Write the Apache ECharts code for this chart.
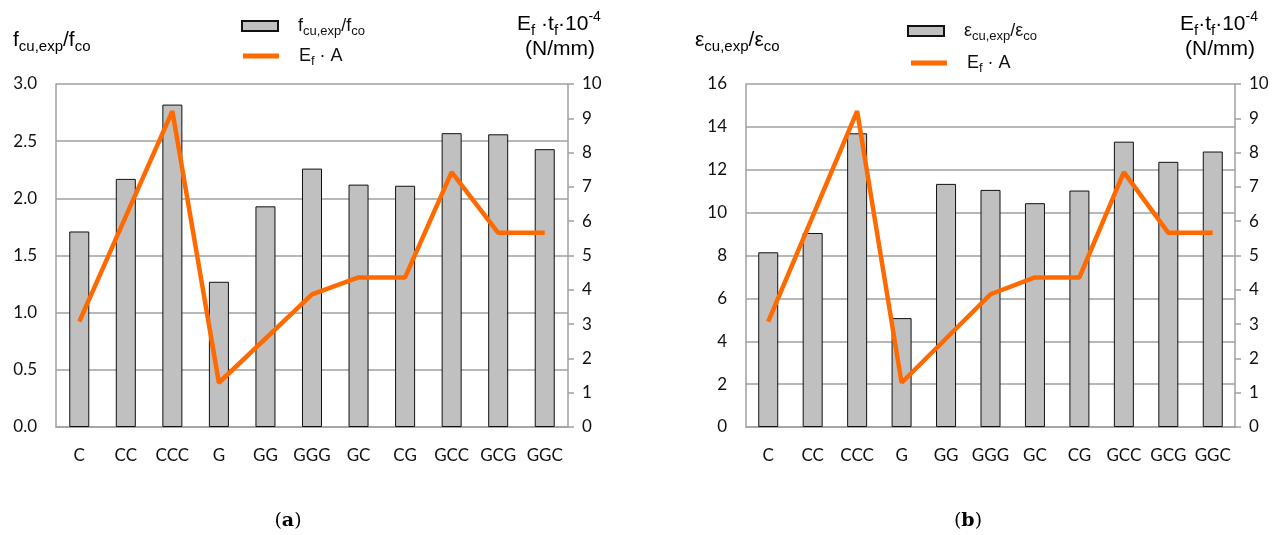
<!DOCTYPE html>
<html>
<head>
<meta charset="utf-8">
<script src="https://cdn.jsdelivr.net/npm/echarts@6/dist/echarts.min.js"></script>
<style>
html,body{margin:0;padding:0;background:#fff;}
#main{width:1279px;height:535px;}
</style>
</head>
<body>
<div id="main"></div>
<script>
const categories = ['C','CC','CCC','G','GG','GGG','GC','CG','GCC','GCG','GGC'];
const strengthRatio = [1.71,2.17,2.82,1.27,1.93,2.26,2.12,2.11,2.57,2.56,2.43];
const strainRatio = [8.15,9.05,13.70,5.08,11.34,11.06,10.44,11.03,13.31,12.37,12.85];
const stiffness = [3.07,6.14,9.21,1.29,2.58,3.87,4.36,4.36,7.43,5.66,5.66];
const leftTicksA = {min:0,max:3,interval:0.5};
const leftTicksB = {min:0,max:16,interval:2};
const rightTicks = {min:0,max:10,interval:1};

const chart = echarts.init(document.getElementById('main'));
const GRID = '#a0a0a0';
const ORANGE = '#ff6a00';
const tickFont = {fontFamily:'Lato', fontSize:17, color:'#111'};

function leftY(gi, t, fmt){
  return {gridIndex:gi, type:'value', min:t.min, max:t.max, interval:t.interval,
    axisLine:{show:true, lineStyle:{color:GRID, width:1.5}},
    axisTick:{show:false},
    splitLine:{show:true, lineStyle:{color:GRID, width:1.5}},
    axisLabel:Object.assign({margin:19, formatter:fmt}, tickFont)};
}
function rightY(gi){
  return {gridIndex:gi, type:'value', position:'right', min:rightTicks.min, max:rightTicks.max, interval:rightTicks.interval,
    axisLine:{show:true, lineStyle:{color:GRID, width:1.5}},
    axisTick:{show:true, inside:false, length:6, lineStyle:{color:GRID, width:1.5}},
    splitLine:{show:false},
    axisLabel:Object.assign({margin:14}, tickFont)};
}
function xAx(gi){
  return {gridIndex:gi, type:'category', data:categories,
    axisLine:{show:true, lineStyle:{color:GRID, width:1.5}},
    axisTick:{show:false},
    axisLabel:Object.assign({margin:20, interval:0}, tickFont)};
}
const barStyle = {color:'#c0c0c0', borderColor:'#111', borderWidth:1};
const lineSeries = (xi, yi, name) => ({name, type:'line', xAxisIndex:xi, yAxisIndex:yi, data:stiffness,
  symbol:'none', lineStyle:{color:ORANGE, width:4.5}, itemStyle:{color:ORANGE}, z:5});

const FF = 'Liberation Sans, Arial';
const rich = {
  n: {fontFamily:FF, fontSize:21, color:'#111', lineHeight:28, verticalAlign:'middle'},
  s: {fontFamily:FF, fontSize:15, color:'#111', lineHeight:14, verticalAlign:'bottom'},
  p: {fontFamily:FF, fontSize:14, color:'#111', lineHeight:14, verticalAlign:'top'}
};
const legRich = {
  n: {fontFamily:FF, fontSize:18, color:'#111', lineHeight:24, verticalAlign:'middle'},
  s: {fontFamily:FF, fontSize:13, color:'#111', lineHeight:12, verticalAlign:'bottom'},
  sp: {width:15, lineHeight:24}
};

function legend(name, left, top, h, text){
  return {data:[{name, icon:'rect'}], left, top, itemWidth:36, itemHeight:h, orient:'vertical',
    formatter:()=>text, textStyle:{rich:legRich}, selectedMode:false};
}

function textEl(x, y, text, align){
  return {type:'text', x, y, style:{text, rich, align:align||'left', verticalAlign:'middle'}};
}

const option = {
  animation:false,
  backgroundColor:'#fff',
  grid:[
    {left:56, top:84, width:512, height:343},
    {left:746, top:84, width:489, height:343}
  ],
  xAxis:[xAx(0), xAx(1)],
  yAxis:[
    leftY(0, leftTicksA, v=>v.toFixed(1)),
    rightY(0),
    leftY(1, leftTicksB, v=>String(v)),
    rightY(1)
  ],
  legend:[
    legend('barA', 236, 12, 10, '{sp|}{n|f}{s|cu,exp}{n|/f}{s|co}'),
    legend('lineA', 238, 42, 5, '{sp|}{n|E}{s|f}{n| · A}'),
    legend('barB', 902, 17, 10, '{sp|}{n|ε}{s|cu,exp}{n|/ε}{s|co}'),
    legend('lineB', 906, 49, 5, '{sp|}{n|E}{s|f}{n| · A}')
  ],
  series:[
    {name:'barA', type:'bar', xAxisIndex:0, yAxisIndex:0, data:strengthRatio, barWidth:'43%', itemStyle:barStyle},
    lineSeries(0,1,'lineA'),
    {name:'barB', type:'bar', xAxisIndex:1, yAxisIndex:2, data:strainRatio, barWidth:'45%', itemStyle:barStyle},
    lineSeries(1,3,'lineB')
  ],
  graphic:[
    textEl(13, 40, '{n|f}{s|cu,exp}{n|/f}{s|co}'),
    textEl(695, 40, '{n|ε}{s|cu,exp}{n|/ε}{s|co}'),
    textEl(559, 24, '{n|E}{s|f}{n| ·t}{s|f}{n|·10}{p|-4}', 'center'),
    textEl(560, 49, '{n|(N/mm)}', 'center'),
    textEl(1219, 24, '{n|E}{s|f}{n|·t}{s|f}{n|·10}{p|-4}', 'center'),
    textEl(1220, 49, '{n|(N/mm)}', 'center'),
    {type:'text', x:288, y:521, style:{text:'{r|(}{b|a}{r|)}', align:'center', verticalAlign:'middle',
      rich:{r:{fontFamily:'DejaVu Serif', fontSize:19, color:'#111'}, b:{fontFamily:'DejaVu Serif', fontSize:19, fontWeight:'bold', color:'#111'}}}},
    {type:'text', x:968, y:521, style:{text:'{r|(}{b|b}{r|)}', align:'center', verticalAlign:'middle',
      rich:{r:{fontFamily:'DejaVu Serif', fontSize:19, color:'#111'}, b:{fontFamily:'DejaVu Serif', fontSize:19, fontWeight:'bold', color:'#111'}}}}
  ]
};
chart.setOption(option);
</script>
</body>
</html>
